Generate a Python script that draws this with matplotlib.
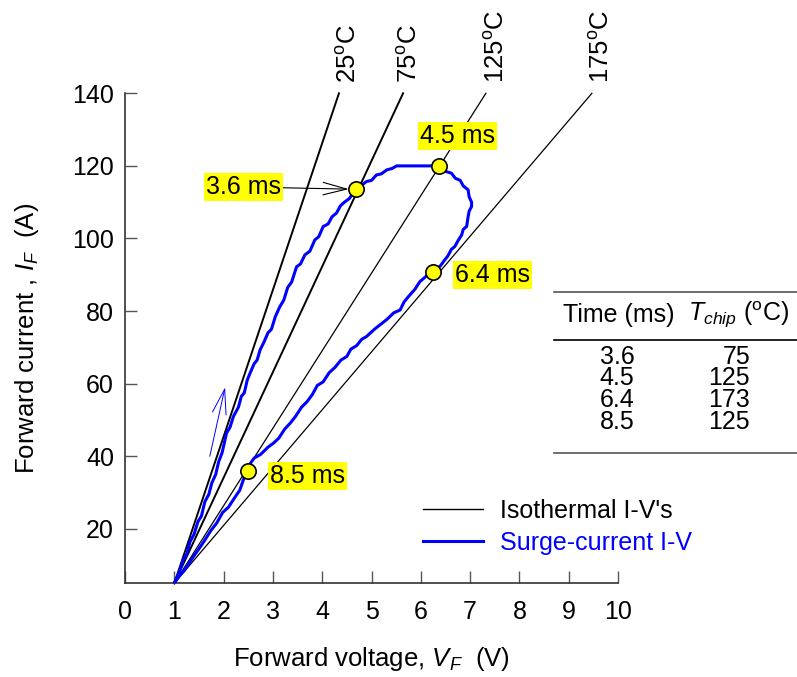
import matplotlib
matplotlib.use("Agg")
import matplotlib.pyplot as plt
from matplotlib.lines import Line2D

plt.rcParams["font.family"] = ["Liberation Sans", "DejaVu Sans"]
plt.rcParams["mathtext.fontset"] = "custom"
plt.rcParams["mathtext.rm"] = "Liberation Sans"
plt.rcParams["mathtext.it"] = "Liberation Sans:italic"

# isothermal I-V lines: common origin, top end at I = 140 A
iso_labels = ["25$^{\\rm o}$C", "75$^{\\rm o}$C", "125$^{\\rm o}$C", "175$^{\\rm o}$C"]
iso_v0, iso_i0 = 1.0, 5.0
iso_v_top = [4.34, 5.64, 7.32, 9.47]
iso_i_top = 140.0
iso_lw = [1.4, 1.4, 0.9, 0.9]
iso_label_v = [4.54, 5.78, 7.54, 9.67]

# surge-current I-V trajectory (V, A)
surge_v = [1.00, 1.10, 1.18, 1.25, 1.32, 1.40, 1.48, 1.55, 1.62, 1.70, 1.76, 1.84,
           1.90, 1.97, 2.06, 2.13, 2.20, 2.30, 2.36, 2.42, 2.48, 2.54, 2.62, 2.68,
           2.74, 2.82, 2.90, 2.97, 3.05, 3.14, 3.22, 3.30, 3.38, 3.48, 3.56, 3.65,
           3.75, 3.85, 3.93, 4.02, 4.12, 4.20, 4.29, 4.37, 4.45, 4.55, 4.63, 4.69,
           4.78, 4.90, 5.00, 5.10, 5.20, 5.31, 5.42, 5.51, 6.37,
           6.45, 6.52, 6.62, 6.70, 6.80, 6.86, 6.96, 6.98, 7.03, 7.03, 6.98, 6.96,
           6.93, 6.86, 6.83, 6.76, 6.69, 6.62, 6.55, 6.48, 6.40, 6.24, 6.10, 5.98,
           5.88, 5.75, 5.66, 5.58, 5.45, 5.32, 5.20, 5.06, 4.90, 4.80, 4.70, 4.58,
           4.50, 4.38, 4.26, 4.14, 4.02, 3.90, 3.80, 3.69, 3.58, 3.46, 3.35, 3.24,
           3.12, 3.01, 2.90, 2.75, 2.62, 2.54, 2.49, 2.40, 2.33, 2.22, 2.10, 1.98,
           1.86, 1.74, 1.60, 1.50, 1.39, 1.30, 1.20, 1.10, 1.00]
surge_i = [5.0, 8.0, 11.5, 13.0, 16.5, 18.5, 22.0, 23.5, 27.5, 29.5, 32.6, 35.0,
           38.5, 41.0, 46.4, 48.0, 51.0, 53.5, 56.5, 57.5, 61.0, 63.0, 65.5, 66.5,
           69.3, 71.5, 74.0, 75.0, 78.5, 81.2, 83.0, 86.5, 88.0, 92.2, 93.0, 95.5,
           96.5, 99.6, 100.5, 103.3, 104.0, 106.0, 107.0, 109.0, 110.0, 111.0, 112.5, 113.6,
           114.5, 115.7, 116.0, 117.5, 117.8, 118.9, 119.3, 120.0, 120.0,
           119.6, 118.4, 118.0, 116.6, 116.0, 114.5, 113.4, 111.5, 110.0, 108.8, 107.5, 106.0,
           103.3, 102.5, 101.0, 99.5, 97.8, 97.0, 95.2, 94.0, 92.5, 90.7, 89.5, 88.1,
           86.0, 84.0, 82.5, 80.3, 79.5, 77.8, 76.5, 75.0, 73.0, 72.2, 70.5, 69.5,
           67.5, 66.5, 64.5, 63.0, 60.5, 59.5, 57.0, 55.0, 53.5, 51.0, 49.1, 47.5,
           45.0, 43.6, 42.5, 40.5, 39.5, 38.0, 36.0, 33.5, 30.7, 28.5, 26.0, 24.5,
           21.6, 19.5, 16.5, 14.5, 12.4, 10.5, 8.5, 7.0, 5.0]

# marked instants
mark_labels = ["3.6 ms", "4.5 ms", "6.4 ms", "8.5 ms"]
mark_v = [4.69, 6.37, 6.24, 2.49]
mark_i = [113.6, 120.1, 90.7, 36.0]
mark_text_v = [2.40, 6.75, 7.45, 3.71]
mark_text_i = [114.2, 128.2, 90.0, 34.6]

# table
tab_time = ["3.6", "4.5", "6.4", "8.5"]
tab_temp = ["75", "125", "173", "125"]

W, H = 797, 677
FS = 18
fig = plt.figure(figsize=(W / 100, H / 100), dpi=100)
ax = fig.add_axes([125 / W, 1 - 583.3 / H, 493 / W, 490 / H])

for vt, lw in zip(iso_v_top, iso_lw):
    ax.plot([iso_v0, vt], [iso_i0, iso_i_top], color="black", lw=lw, clip_on=False)
for lab, lv in zip(iso_labels, iso_label_v):
    ax.text(lv, 142.8, lab, rotation=90, ha="center", va="bottom", fontsize=18.5,
            clip_on=False)

ax.plot(surge_v, surge_i, color="#0000ff", lw=2.2, zorder=3)

ax.plot(mark_v, mark_i, "o", ms=11, mfc="#ffff00", mec="black", mew=1.2, zorder=5)
box = dict(boxstyle="square,pad=0.08", fc="#ffff00", ec="none")
for k, (lab, tv, ti) in enumerate(zip(mark_labels, mark_text_v, mark_text_i)):
    if k == 0:
        ax.annotate(lab, xy=(mark_v[k] - 0.15, mark_i[k]), xytext=(tv, ti),
                    ha="center", va="center", fontsize=FS, bbox=box,
                    arrowprops=dict(arrowstyle="->,head_length=1.7,head_width=0.45",
                                    color="black", lw=0.8, mutation_scale=10,
                                    shrinkA=0, shrinkB=0))
    else:
        ax.text(tv, ti, lab, ha="center", va="center", fontsize=FS, bbox=box)

# direction arrow
ax.annotate("", xy=(2.03, 59), xytext=(1.72, 40),
            arrowprops=dict(arrowstyle="->,head_length=1.8,head_width=0.5",
                            color="#0000ff", lw=0.7, mutation_scale=10,
                            shrinkA=0, shrinkB=0))

ax.set_xlim(0, 10)
ax.set_ylim(5, 140)
ax.set_xticks(range(0, 11))
ax.set_yticks(range(20, 141, 20))
ax.spines["top"].set_visible(False)
ax.spines["right"].set_visible(False)
for s in ("left", "bottom"):
    ax.spines[s].set_color("#333333")
    ax.spines[s].set_linewidth(1.2)
ax.tick_params(direction="in", length=8.5, width=1.0, color="#555555",
               labelsize=FS)
ax.tick_params(axis="y", pad=8)
ax.tick_params(axis="x", pad=12)
ax.set_xlabel("Forward voltage, $V_F$  (V)", fontsize=18.5, labelpad=15)
ax.set_ylabel("Forward current , $I_F$  (A)", fontsize=18.5, labelpad=22)

leg_handles = [Line2D([], [], color="black", lw=1.0),
               Line2D([], [], color="#0000ff", lw=2.2)]
leg = ax.legend(leg_handles, ["Isothermal I-V's", "Surge-current I-V"],
                loc="upper left", bbox_to_anchor=(423 / W, 1 - 499 / H),
                bbox_transform=fig.transFigure, frameon=False, fontsize=FS,
                borderpad=0, borderaxespad=0, handlelength=2.4,
                handletextpad=0.68, labelspacing=0.32)
for txt, c in zip(leg.get_texts(), ["black", "#0000ff"]):
    txt.set_color(c)

# summary table
def fx(px):
    return px / W

def fy(py):
    return 1 - py / H

for py, c in [(291.7, "#555555"), (340, "black"), (453.3, "#555555")]:
    fig.add_artist(Line2D([fx(554), fx(797)], [fy(py), fy(py)], color=c, lw=1.2))
fig.text(fx(619), fy(315), "Time (ms)", ha="center", va="center", fontsize=FS)
fig.text(fx(738), fy(315), "$T_{chip}$ ($^{\\rm o}$C)", ha="center", va="center",
         fontsize=FS)
row_y = [356.7, 378.3, 400, 421.7]
for ry, t, c in zip(row_y, tab_time, tab_temp):
    fig.text(fx(617), fy(ry), t, ha="center", va="center", fontsize=FS)
    fig.text(fx(750), fy(ry), c, ha="right", va="center", fontsize=FS)

fig.savefig("out.png", dpi=100)
